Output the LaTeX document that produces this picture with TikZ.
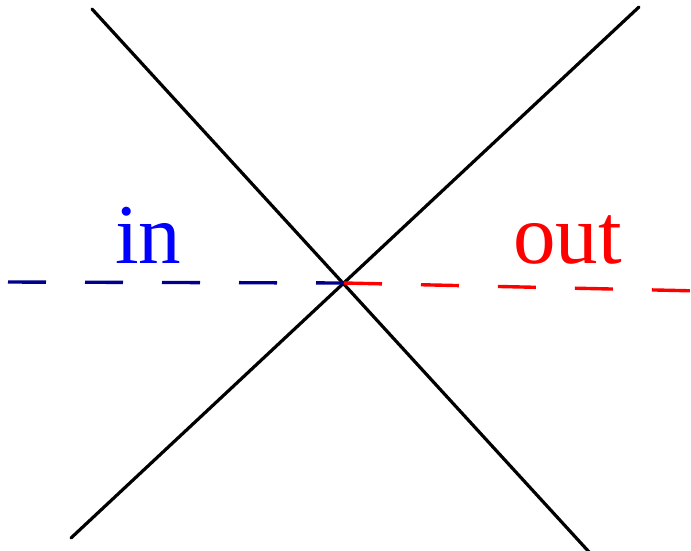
\documentclass[tikz,border=0pt]{standalone}
\usepackage{fontspec}
\setmainfont{Liberation Serif}
\definecolor{inblue}{RGB}{0,0,255}
\definecolor{dashnavy}{RGB}{0,0,140}
\definecolor{outred}{RGB}{255,0,0}
\begin{document}
\begin{tikzpicture}[x=1pt,y=-1pt,
  crossline/.style={line width=3.2pt,black,line cap=round},
  dashline/.style={line width=3.4pt,dash pattern=on 38pt off 39pt},
  lbl/.style={inner sep=0pt,anchor=base west,font=\fontsize{85}{85}\selectfont}]
\useasboundingbox (0,0) rectangle (691,550);
\coordinate (a1) at (92,9);
\coordinate (a2) at (590,553);
\coordinate (b1) at (639,7);
\coordinate (b2) at (71,538);
\coordinate (c) at (344,283);
\coordinate (l) at (8,282);
\coordinate (r) at (700,291);
\draw[crossline] (a1) -- (a2);
\draw[crossline] (b1) -- (b2);
\draw[dashline,dashnavy] (l) -- (c);
\draw[dashline,outred] (c) -- (r);
\node[lbl,text=inblue] (in) at (115,263) {in};
\node[lbl,text=outred] (out) at (513,263) {out};
\end{tikzpicture}
\end{document}
